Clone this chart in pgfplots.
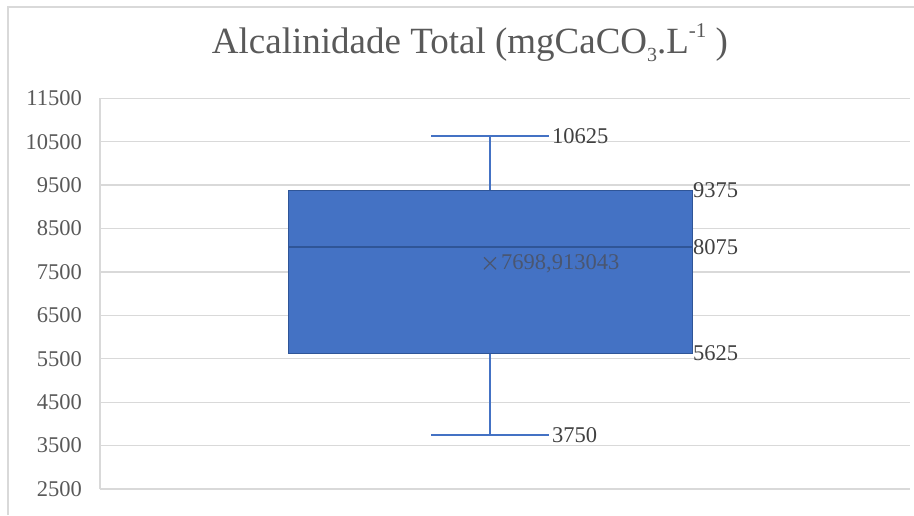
\documentclass[border=0pt]{standalone}
\usepackage{pgfplots}
\pgfplotsset{compat=1.18}
\usepackage{fontspec}
\setmainfont{Liberation Serif}

\definecolor{boxblue}{HTML}{4472C4}
\definecolor{boxedge}{HTML}{2F5597}
\definecolor{gridgray}{HTML}{D9D9D9}
\definecolor{labelgray}{HTML}{595959}
\definecolor{datagray}{HTML}{404040}
\definecolor{meangray}{HTML}{4A5670}

% five-number summary and mean
\def\lowW{3750}   \def\lowQ{5625}  \def\med{8075}
\def\upQ{9375}    \def\upW{10625}  \def\meanv{7698.913043}

\begin{document}
\begin{tikzpicture}
  \path[use as bounding box] (0pt,0pt) rectangle (914pt,515pt);
  % chart frame (left and top edges)
  \draw[gridgray, line width=2pt] (8pt,0pt) -- (8pt,508pt) -- (914pt,508pt);
  % title
  \node[anchor=base, text=labelgray, font=\fontsize{37}{40}\selectfont]
    at (470pt,461pt) {Alcalinidade Total (mgCaCO\raisebox{-0.2em}{\fontsize{20}{22}\selectfont 3}.L\raisebox{0.45em}{\fontsize{21}{22}\selectfont -1} )};

  \begin{axis}[
    at={(100pt,26pt)}, anchor=south west,
    scale only axis, width=810pt, height=390.7pt,
    xmin=100, xmax=910, ymin=2500, ymax=11500,
    xtick=\empty,
    ytick={2500,3500,...,11500},
    scaled y ticks=false,
    ymajorgrids,
    grid style={gridgray, line width=1.3pt},
    axis x line=none,
    axis y line*=left,
    y axis line style={gridgray, line width=1.3pt, -},
    major tick length=0pt,
    yticklabel style={text=labelgray, font=\fontsize{22.5}{26}\selectfont,
      inner sep=0pt, xshift=-18pt},
    /pgf/number format/1000 sep={},
    /pgf/number format/assume math mode=true,
    clip=false,
  ]
    % whiskers with caps
    \addplot[boxblue, line width=2pt] coordinates {(490,\upQ) (490,\upW)};
    \addplot[boxblue, line width=2pt] coordinates {(431,\upW) (549,\upW)};
    \addplot[boxblue, line width=2pt] coordinates {(490,\lowQ) (490,\lowW)};
    \addplot[boxblue, line width=2pt] coordinates {(431,\lowW) (549,\lowW)};
    % interquartile box
    \addplot[fill=boxblue, draw=boxedge, line width=0.8pt]
      coordinates {(288,\lowQ) (692,\lowQ) (692,\upQ) (288,\upQ)} -- cycle;
    % median
    \addplot[boxedge, line width=1.5pt] coordinates {(288,\med) (692,\med)};
    % mean
    \addplot[only marks, mark=x, mark size=8.5pt, meangray, line width=1.2pt]
      coordinates {(490,\meanv)};

    % value labels
    \begin{scope}[every node/.style={anchor=west, text=datagray,
        font=\fontsize{22.5}{26}\selectfont}]
      \node[inner sep=3pt] at (axis cs:549,\upW) {10625};
      \node[inner sep=3pt] at (axis cs:549,\lowW) {3750};
      \node[inner sep=1pt] at (axis cs:692,\upQ) {9375};
      \node[inner sep=1pt] at (axis cs:692,\med) {8075};
      \node[inner sep=1pt] at (axis cs:692,\lowQ) {5625};
      \node[inner sep=1pt, text=meangray] at (axis cs:500,\meanv) {7698,913043};
    \end{scope}
  \end{axis}
\end{tikzpicture}
\end{document}
